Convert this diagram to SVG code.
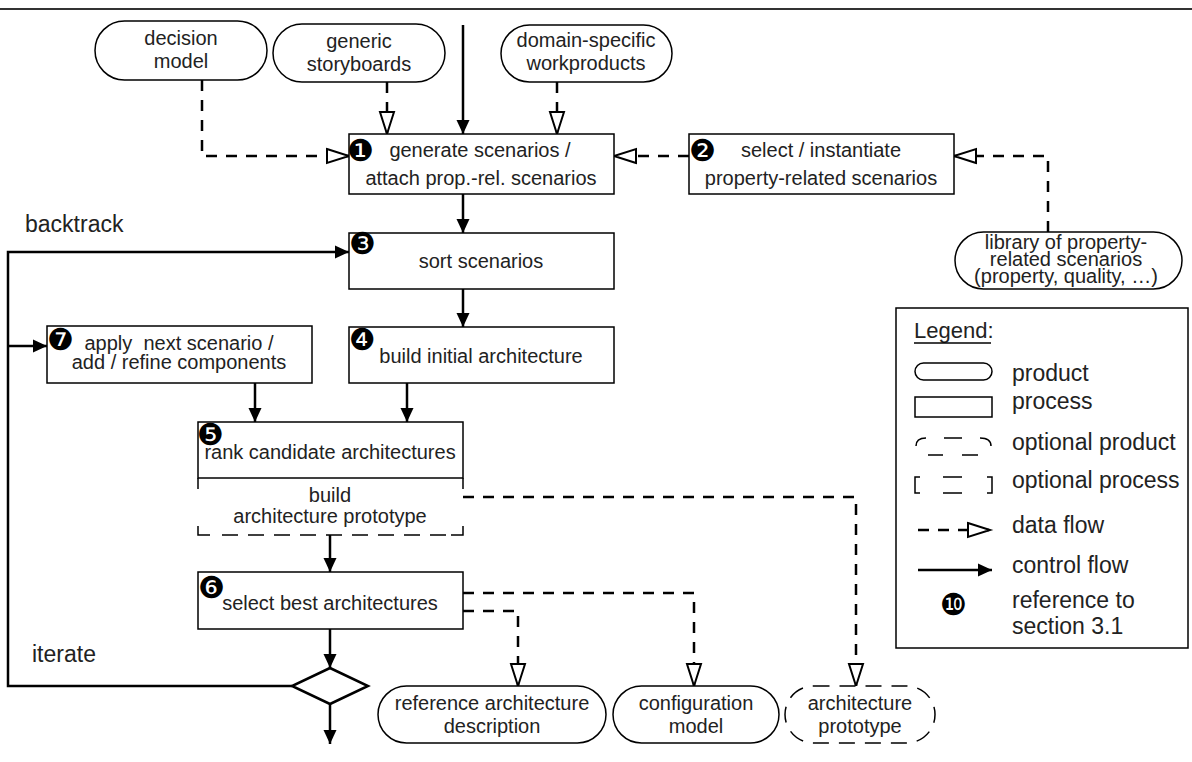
<svg xmlns="http://www.w3.org/2000/svg" width="1192" height="762" viewBox="0 0 1192 762">
<style>
.box{fill:#fff;stroke:#000;stroke-width:1.5}
.opt{fill:none;stroke:#000;stroke-width:1.5}
.t{font-family:"Liberation Sans",Arial,sans-serif;font-size:20px;fill:#222;text-anchor:middle}
.lb{font-family:"Liberation Sans",Arial,sans-serif;font-size:23px;fill:#222}
.num{font-family:"DejaVu Sans",sans-serif;font-size:30px;fill:#000}
.ctl{fill:none;stroke:#000;stroke-width:2.5;marker-end:url(#fa)}
.dat{fill:none;stroke:#000;stroke-width:2.5;stroke-dasharray:11 9;marker-end:url(#oa)}
</style>
<defs>
<marker id="fa" markerUnits="userSpaceOnUse" markerWidth="16" markerHeight="15" refX="14" refY="6.5" orient="auto" overflow="visible">
<path d="M0,0 L14,6.5 L0,13 Z" fill="#000" stroke="none"/>
</marker>
<marker id="oa" markerUnits="userSpaceOnUse" markerWidth="24" markerHeight="16" refX="22" refY="7" orient="auto" overflow="visible">
<path d="M0,0 L22,7 L0,14 Z" fill="#fff" stroke="#000" stroke-width="2" stroke-dasharray="none"/>
</marker>
</defs>
<rect width="1192" height="762" fill="#fff"/>
<line x1="0" y1="9" x2="1192" y2="9" stroke="#333" stroke-width="2"/>

<g id="connectors">
<path class="ctl" d="M463,25 V134"/>
<path class="dat" d="M202,80 V156 H349"/>
<path class="dat" d="M387,82 V134"/>
<path class="dat" d="M557,82 V134"/>
<path class="dat" d="M689,156 H614"/>
<path class="dat" d="M1048,232 V156 H954"/>
<path class="ctl" d="M463,194 V233"/>
<path class="ctl" d="M463,289 V327"/>
<path class="ctl" d="M292,686 H8 V252 H349"/>
<path class="ctl" d="M8,346 H47"/>
<path class="ctl" d="M255,383 V422"/>
<path class="ctl" d="M407,383 V422"/>
<path class="ctl" d="M330,535 V572"/>
<path class="ctl" d="M330,629 V668"/>
<path class="ctl" d="M330,704 V744"/>
<path class="dat" d="M463,497 H856 V686"/>
<path class="dat" d="M463,593 H694 V686"/>
<path class="dat" d="M463,611 H518 V686"/>
</g>

<g id="decision-model">
<rect class="box" x="95" y="21" width="172" height="59" rx="29.5"/>
<text class="t" x="181" y="45">decision</text>
<text class="t" x="181" y="68">model</text>
</g>
<g id="generic-storyboards">
<rect class="box" x="273" y="24" width="172" height="58" rx="29"/>
<text class="t" x="359" y="48">generic</text>
<text class="t" x="359" y="71">storyboards</text>
</g>
<g id="domain-workproducts">
<rect class="box" x="501" y="25" width="171" height="57" rx="28.5"/>
<text class="t" x="586" y="47">domain-specific</text>
<text class="t" x="586" y="70">workproducts</text>
</g>

<g id="n1">
<rect class="box" x="349" y="134" width="265" height="60"/>
<text class="num" x="347" y="161">❶</text>
<text class="t" x="480" y="157">generate scenarios /</text>
<text class="t" x="481" y="185">attach prop.-rel. scenarios</text>
</g>
<g id="n2">
<rect class="box" x="689" y="134" width="265" height="60"/>
<text class="num" x="689" y="161">❷</text>
<text class="t" x="821" y="157">select / instantiate</text>
<text class="t" x="821" y="185">property-related scenarios</text>
</g>
<g id="library">
<rect class="box" x="955" y="232" width="227" height="57" rx="28.5"/>
<text class="t" x="1066" y="249">library of property-</text>
<text class="t" x="1066" y="266">related scenarios</text>
<text class="t" x="1066" y="283">(property, quality, …)</text>
</g>
<g id="n3">
<rect class="box" x="349" y="233" width="265" height="56"/>
<text class="num" x="349" y="254">❸</text>
<text class="t" x="481" y="268">sort scenarios</text>
</g>
<g id="n4">
<rect class="box" x="349" y="327" width="265" height="56"/>
<text class="num" x="349" y="350">❹</text>
<text class="t" x="481" y="363">build initial architecture</text>
</g>
<g id="n7">
<rect class="box" x="47" y="326" width="265" height="57"/>
<text class="num" x="47" y="350">❼</text>
<text class="t" x="179" y="350" style="white-space:pre">apply  next scenario /</text>
<text class="t" x="179" y="369">add / refine components</text>
</g>
<g id="n5">
<rect class="box" x="198" y="422" width="265" height="56"/>
<text class="num" x="197" y="445">❺</text>
<text class="t" x="330" y="459">rank candidate architectures</text>
<path class="opt" d="M198,478 V489 M198,526 V535 H210 M451,535 H463 V526 M463,478 V489"/>
<line x1="222" y1="535" x2="451" y2="535" stroke="#000" stroke-width="1.5" stroke-dasharray="16 10"/>
<text class="t" x="330" y="502">build</text>
<text class="t" x="330" y="523">architecture prototype</text>
</g>
<g id="n6">
<rect class="box" x="198" y="572" width="265" height="57"/>
<text class="num" x="198" y="598">❻</text>
<text class="t" x="330" y="610">select best architectures</text>
</g>
<g id="decision">
<polygon points="330,668 368,686 330,704 292,686" fill="#fff" stroke="#000" stroke-width="2.5"/>
</g>
<text class="lb" x="25" y="232">backtrack</text>
<text class="lb" x="32" y="662">iterate</text>

<g id="ref-arch">
<rect class="box" x="378" y="686" width="228" height="57" rx="28.5"/>
<text class="t" x="492" y="710">reference architecture</text>
<text class="t" x="492" y="733">description</text>
</g>
<g id="config-model">
<rect class="box" x="613" y="686" width="166" height="57" rx="28.5"/>
<text class="t" x="696" y="710">configuration</text>
<text class="t" x="696" y="733">model</text>
</g>
<g id="arch-prototype">
<rect x="785" y="686" width="150" height="57" rx="28.5" fill="#fff" stroke="#000" stroke-width="1.5" stroke-dasharray="16 10"/>
<text class="t" x="860" y="710">architecture</text>
<text class="t" x="860" y="733">prototype</text>
</g>

<g id="legend">
<rect x="896" y="308" width="292" height="340" fill="#fff" stroke="#000" stroke-width="1.5"/>
<text class="lb" x="914" y="338" style="font-size:22px">Legend:</text>
<line x1="914" y1="343" x2="991" y2="343" stroke="#000" stroke-width="1.5"/>
<rect class="box" x="915" y="363" width="77" height="17" rx="8.5"/>
<text class="lb" x="1012" y="381">product</text>
<rect class="box" x="915" y="397" width="77" height="20"/>
<text class="lb" x="1012" y="409">process</text>
<path class="opt" d="M916,446 Q916,438 926,438 M944,438 H962 M980,438 Q991,438 991,446 M928,455 H943 M962,455 H978"/>
<text class="lb" x="1012" y="450">optional product</text>
<path class="opt" d="M920,477 H915 V493 H920 M943,477 H962 M943,493 H962 M987,477 H992 V493 H987"/>
<text class="lb" x="1012" y="488">optional process</text>
<path class="dat" d="M918,530 H990"/>
<text class="lb" x="1012" y="533">data flow</text>
<path class="ctl" d="M918,570 H992"/>
<text class="lb" x="1012" y="573">control flow</text>
<text class="num" x="940" y="615">❿</text>
<text class="lb" x="1012" y="608">reference to</text>
<text class="lb" x="1012" y="634">section 3.1</text>
</g>
</svg>
